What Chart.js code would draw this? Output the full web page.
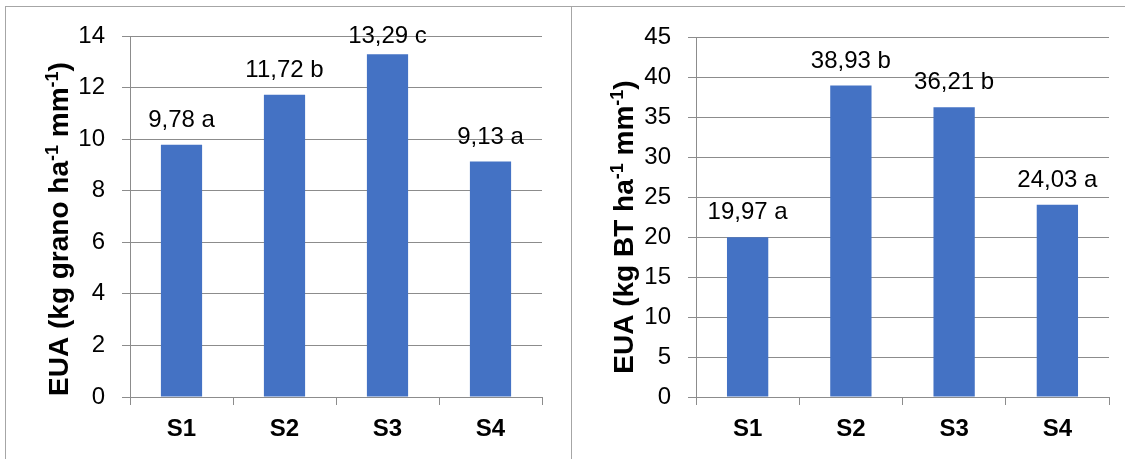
<!DOCTYPE html>
<html>
<head>
<meta charset="utf-8">
<script src="https://cdn.jsdelivr.net/npm/chart.js@4.4.1/dist/chart.umd.min.js"></script>
<style>
  html, body { margin: 0; padding: 0; background: #ffffff; }
  #wrap { position: relative; width: 1125px; height: 459px; overflow: hidden; background: #fff; }
  #c1 { position: absolute; left: 0; top: 0; }
  #c2 { position: absolute; left: 571px; top: 0; }
  #bl { position: absolute; left: 5px; top: 6px; width: 0; height: 460px; border-left: 1px solid #a6a6a6; }
  #bt { position: absolute; left: 5px; top: 6px; width: 1130px; height: 0; border-top: 1px solid #a6a6a6; }
  #bm { position: absolute; left: 571px; top: 6px; width: 0; height: 460px; border-left: 1px solid #a6a6a6; }
</style>
</head>
<body>
<div id="wrap">
  <canvas id="c1" width="571" height="459"></canvas>
  <canvas id="c2" width="554" height="459"></canvas>
  <div id="bl"></div><div id="bt"></div><div id="bm"></div>
</div>
<script>
// ---- data ----
const categories = ["S1", "S2", "S3", "S4"];
const grainValues = [9.78, 11.72, 13.29, 9.13];
const grainLetters = ["a", "b", "c", "a"];
const biomassValues = [19.97, 38.93, 36.21, 24.03];
const biomassLetters = ["a", "b", "b", "a"];
const grainTitleParts = [["EUA (kg grano ha", false], ["-1", true], [" mm", false], ["-1", true], [")", false]];
const biomassTitleParts = [["EUA (kg BT ha", false], ["-1", true], [" mm", false], ["-1", true], [")", false]];

const FONT = "'Liberation Sans', Arial, sans-serif";
const GRID = "#8c8c8c";
const BAR = "#4472C4";

function fmt(v) { return v.toFixed(2).replace(".", ","); }

function makeChart(id, values, letters, yMax, step, titleParts, opts) {
  const labelPlugin = {
    id: "vlabels",
    afterDatasetsDraw(chart) {
      const ctx = chart.ctx;
      const meta = chart.getDatasetMeta(0);
      ctx.save();
      ctx.font = "24px " + FONT;
      ctx.fillStyle = "#000";
      ctx.textAlign = "center";
      ctx.textBaseline = "alphabetic";
      meta.data.forEach((bar, i) => {
        let y = bar.y - 18;
        if (y < 43) y = 43;
        ctx.fillText(fmt(values[i]) + " " + letters[i], bar.x, y);
      });
      ctx.restore();
    }
  };
  const titlePlugin = {
    id: "ytitle",
    afterDraw(chart) {
      const ctx = chart.ctx;
      ctx.save();
      const big = "bold 28px " + FONT, small = "bold 18px " + FONT;
      let total = 0;
      titleParts.forEach(p => { ctx.font = p[1] ? small : big; total += ctx.measureText(p[0]).width; });
      ctx.translate(opts.titleX, opts.titleCY);
      ctx.rotate(-Math.PI / 2);
      ctx.fillStyle = "#000";
      ctx.textBaseline = "alphabetic";
      ctx.textAlign = "left";
      let x = -total / 2;
      titleParts.forEach(p => {
        ctx.font = p[1] ? small : big;
        ctx.fillText(p[0], x, p[1] ? -10 : 0);
        x += ctx.measureText(p[0]).width;
      });
      ctx.restore();
    }
  };
  return new Chart(document.getElementById(id), {
    type: "bar",
    data: {
      labels: categories,
      datasets: [{ data: values, backgroundColor: BAR, categoryPercentage: 1.0, barPercentage: 0.4 }]
    },
    options: {
      responsive: false,
      animation: false,
      devicePixelRatio: 1,
      layout: { padding: { left: 0, top: opts.top, right: opts.right, bottom: 0 } },
      plugins: { legend: { display: false }, tooltip: { enabled: false } },
      scales: {
        x: {
          grid: { offset: true, drawOnChartArea: false, drawTicks: true, tickLength: 8, color: GRID },
          border: { color: GRID, width: 1 },
          ticks: { font: { family: FONT, size: 24, weight: "bold" }, color: "#000", padding: 10 },
          afterFit(s) { s.height = 459 - opts.bottom; }
        },
        y: {
          min: 0, max: yMax,
          grid: { color: GRID, tickLength: 8, lineWidth: 1 },
          border: { color: GRID, width: 1 },
          ticks: { stepSize: step, font: { family: FONT, size: 24 }, color: "#000", padding: 17 },
          afterFit(s) { s.width = opts.axisX; }
        }
      }
    },
    plugins: [labelPlugin, titlePlugin]
  });
}

makeChart("c1", grainValues, grainLetters, 14, 2, grainTitleParts,
  { top: 36, right: 29, bottom: 397, axisX: 130, titleX: 68, titleCY: 229 });
makeChart("c2", biomassValues, biomassLetters, 45, 5, biomassTitleParts,
  { top: 37, right: 16, bottom: 397, axisX: 125, titleX: 62, titleCY: 227 });
</script>
</body>
</html>
